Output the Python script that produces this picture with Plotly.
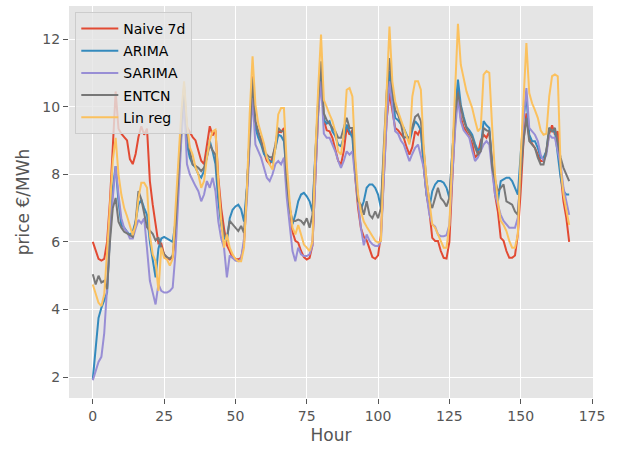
import plotly.graph_objects as go

hours = list(range(168))

naive_7d = [
    6.0, 5.75, 5.5, 5.45, 5.5, 6.0, 7.2, 8.8, 10.45, 9.35, 9.2, 9.1, 9.0, 8.45, 8.3, 8.6, 9.1, 9.42, 9.17, 9.35, 7.8, 7.1, 6.5, 5.95,
    5.95, 5.63, 5.53, 5.48, 5.55, 6.3, 7.8, 9.4, 10.3, 9.4, 9.25, 9.1, 9.0, 8.7, 8.4, 8.3, 8.8, 9.42, 9.15, 9.3, 7.9, 7.0, 6.4, 5.9,
    5.73, 5.53, 5.5, 5.48, 5.53, 5.95, 7.5, 9.4, 10.9, 9.5, 9.2, 9.05, 8.65, 8.4, 8.3, 8.5, 8.8, 9.27, 9.25, 9.37, 8.0, 7.0, 6.3, 6.03,
    5.98, 5.73, 5.55, 5.48, 5.53, 5.9, 8.0, 9.8, 11.0, 9.6, 9.3, 9.27, 9.08, 8.7, 8.4, 8.29, 8.7, 9.37, 9.17, 9.3, 7.9, 7.0, 6.4, 6.15,
    6.05, 5.8, 5.55, 5.5, 5.6, 6.2, 8.0, 9.6, 10.4, 9.86, 9.37, 9.3, 9.2, 9.08, 8.8, 8.58, 8.8, 9.27, 9.17, 9.37, 8.2, 7.4, 6.9, 6.12,
    6.03, 6.03, 5.73, 5.53, 5.51, 6.0, 7.8, 9.5, 10.5, 9.67, 9.4, 9.27, 9.1, 8.9, 8.49, 8.6, 9.0, 9.17, 9.08, 9.27, 8.29, 7.4, 6.9, 6.12,
    6.03, 5.73, 5.53, 5.53, 5.6, 6.22, 7.5, 9.0, 9.8, 9.08, 8.9, 8.78, 8.58, 8.39, 8.39, 8.68, 9.2, 9.45, 9.17, 9.27, 8.0, 7.2, 6.71, 6.0,
]

arima = [
    1.95, 2.9, 3.75, 4.05, 4.3, 4.5, 6.2, 7.6, 8.24, 7.2, 6.5, 6.42, 6.3, 6.2, 6.3, 6.6, 7.1, 7.25, 7.0, 6.8, 6.0, 5.4, 4.95, 5.8,
    6.1, 6.15, 6.1, 6.05, 6.0, 6.6, 7.8, 9.2, 10.5, 8.88, 8.49, 8.29, 8.2, 8.0, 7.9, 8.1, 8.6, 8.98, 8.68, 8.3, 7.2, 6.5, 6.12, 6.03,
    6.7, 6.95, 7.05, 7.1, 6.96, 6.6, 7.6, 9.0, 10.55, 9.37, 9.08, 8.88, 8.6, 8.49, 8.4, 8.35, 8.78, 9.17, 9.13, 8.98, 7.9, 7.0, 6.52, 6.8,
    7.2, 7.4, 7.45, 7.35, 7.2, 6.9, 8.6, 10.0, 10.95, 9.6, 9.5, 9.57, 9.27, 9.13, 8.88, 8.83, 9.1, 9.47, 9.27, 9.08, 8.0, 7.3, 6.95, 7.2,
    7.6, 7.7, 7.7, 7.6, 7.4, 7.0, 8.5, 10.0, 11.05, 10.26, 9.67, 9.6, 9.5, 9.37, 9.17, 8.95, 9.3, 9.57, 9.47, 9.3, 8.3, 7.4, 7.0, 7.5,
    7.7, 7.8, 7.8, 7.75, 7.6, 7.3, 8.6, 9.9, 10.8, 10.06, 9.7, 9.4, 9.3, 9.17, 8.9, 8.7, 8.78, 9.57, 9.45, 9.37, 8.29, 7.6, 7.2, 7.8,
    7.85, 7.9, 7.9, 7.8, 7.6, 7.4, 8.6, 9.7, 10.3, 9.17, 8.98, 8.98, 8.78, 8.49, 8.49, 8.68, 9.37, 9.27, 9.27, 8.6, 7.9, 7.5, 7.4, 7.4,
]

sarima = [
    1.91, 2.2, 2.45, 2.6, 3.3, 4.65, 6.2, 7.3, 8.24, 7.4, 6.7, 6.4, 6.3, 6.1, 6.1, 6.4, 6.65, 6.55, 6.7, 5.8, 4.85, 4.5, 4.15, 4.75,
    4.55, 4.5, 4.5, 4.55, 4.65, 5.7, 7.5, 9.0, 10.2, 8.3, 8.0, 7.8, 7.65, 7.5, 7.2, 7.4, 7.8, 7.6, 7.9, 7.5, 6.6, 6.1, 5.83, 4.95,
    5.6, 5.53, 5.45, 5.43, 5.5, 6.1, 7.2, 8.9, 10.26, 8.88, 8.68, 8.49, 8.19, 7.9, 7.8, 8.0, 8.3, 8.39, 8.29, 8.49, 7.3, 6.42, 5.73, 5.43,
    5.83, 5.63, 5.58, 5.58, 5.63, 5.9, 8.0, 9.8, 10.75, 9.2, 9.08, 9.08, 8.88, 8.68, 8.4, 8.19, 8.4, 8.68, 8.58, 8.68, 7.9, 7.1, 6.42, 5.9,
    6.22, 6.03, 5.93, 5.88, 5.88, 6.03, 8.0, 9.6, 10.75, 10.06, 9.27, 9.2, 9.0, 8.88, 8.6, 8.39, 8.6, 8.78, 8.88, 8.58, 8.2, 7.4, 6.81, 6.52,
    6.45, 6.22, 6.17, 6.17, 6.2, 6.5, 7.8, 9.3, 10.26, 9.57, 9.3, 9.17, 9.08, 8.7, 8.39, 8.5, 8.7, 8.88, 8.98, 8.88, 8.09, 7.4, 7.1, 6.8,
    6.62, 6.52, 6.42, 6.42, 6.42, 6.71, 8.2, 9.6, 10.55, 9.37, 9.27, 9.17, 8.98, 8.58, 8.39, 8.58, 9.17, 9.08, 9.08, 8.7, 8.29, 7.6, 7.2, 6.8,
]

entcn = [
    5.04, 4.74, 5.0, 4.8, 4.85, 4.6, 6.0, 7.0, 7.3, 6.6, 6.42, 6.3, 6.25, 6.2, 6.15, 6.6, 7.5, 7.26, 6.8, 6.43, 6.33, 6.24, 6.04, 6.13,
    5.83, 5.64, 5.55, 5.5, 5.6, 6.5, 8.0, 9.5, 10.6, 9.3, 8.7, 8.29, 8.25, 8.19, 8.09, 8.2, 8.5, 8.88, 8.7, 8.58, 7.6, 6.7, 6.22, 6.12,
    6.62, 6.52, 6.42, 6.32, 6.47, 6.27, 7.5, 9.2, 10.85, 9.57, 9.27, 8.98, 8.68, 8.58, 8.5, 8.5, 8.88, 9.37, 9.27, 9.27, 7.8, 7.0, 6.62, 6.62,
    6.66, 6.62, 6.52, 6.7, 6.42, 6.8, 8.5, 10.2, 11.34, 9.8, 9.6, 9.47, 9.37, 9.27, 9.08, 9.08, 9.37, 9.67, 9.37, 9.37, 8.3, 7.2, 7.1, 6.8,
    7.2, 6.8, 6.7, 6.9, 6.7, 7.0, 8.8, 10.4, 11.44, 10.5, 9.9, 9.77, 9.5, 9.08, 9.1, 9.08, 9.4, 9.7, 9.77, 9.57, 8.7, 7.8, 7.2, 7.0,
    7.3, 7.6, 7.3, 7.2, 7.05, 7.3, 8.6, 9.8, 10.4, 9.96, 9.6, 9.37, 9.2, 9.08, 8.8, 8.58, 8.68, 9.37, 9.3, 9.27, 8.19, 7.8, 7.5, 7.6,
    7.7, 7.2, 7.15, 7.1, 6.9, 6.8, 8.0, 9.0, 9.67, 8.98, 8.88, 8.78, 8.49, 8.29, 8.29, 8.68, 9.37, 9.27, 9.37, 8.9, 8.49, 8.19, 8.0, 7.8,
]

lin_reg = [
    4.74, 4.45, 4.2, 4.1, 4.45, 5.7, 7.2, 8.4, 9.08, 8.0, 7.4, 7.0, 6.76, 6.5, 6.2, 6.5, 7.3, 7.75, 7.75, 7.6, 6.2, 5.63, 5.43, 4.55,
    5.83, 5.53, 5.48, 5.3, 5.5, 7.0, 8.5, 9.8, 10.75, 9.5, 8.8, 8.58, 8.2, 8.0, 7.6, 7.8, 8.5, 9.0, 9.27, 9.32, 7.8, 6.62, 5.83, 6.22,
    5.83, 5.63, 5.5, 5.43, 5.43, 5.83, 7.5, 9.8, 11.49, 10.06, 9.5, 9.2, 8.9, 8.5, 8.29, 8.14, 8.78, 9.77, 9.96, 9.96, 8.29, 7.2, 6.42, 6.22,
    6.5, 6.22, 5.92, 5.83, 5.73, 6.0, 8.6, 10.5, 12.13, 10.2, 9.96, 9.77, 9.57, 9.27, 8.68, 8.58, 9.2, 10.5, 10.55, 10.3, 8.5, 7.4, 6.9, 6.6,
    6.45, 6.3, 6.15, 6.03, 5.98, 6.03, 8.5, 10.5, 12.37, 10.75, 10.16, 9.86, 9.6, 9.37, 9.08, 8.88, 10.3, 10.75, 10.75, 10.5, 8.8, 7.8, 7.2, 6.52,
    6.42, 6.22, 6.03, 5.83, 5.83, 6.5, 8.5, 10.5, 12.45, 11.24, 10.8, 10.45, 10.2, 9.96, 9.6, 9.27, 9.37, 10.95, 11.05, 11.0, 9.4, 8.0, 7.2, 6.62,
    6.5, 6.32, 6.03, 5.83, 5.83, 6.22, 8.5, 10.3, 11.88, 10.4, 10.1, 9.9, 9.67, 9.3, 9.17, 9.2, 10.3, 10.9, 10.95, 10.9, 8.2, 7.4, 6.91, 6.5,
]

series_names = ["Naive 7d", "ARIMA", "SARIMA", "ENTCN", "Lin reg"]
series_values = [naive_7d, arima, sarima, entcn, lin_reg]
series_colors = ["#E24A33", "#348ABD", "#988ED5", "#777777", "#FBC15E"]

x_ticks = [0, 25, 50, 75, 100, 125, 150, 175]
y_ticks = [2, 4, 6, 8, 10, 12]

fig = go.Figure()
for name, vals, col in zip(series_names, series_values, series_colors):
    fig.add_trace(go.Scatter(x=hours, y=vals, mode="lines", name=name,
                             legendgroup=name,
                             line=dict(color=col, width=2)))

# matplotlib-like 5% margins
xmin, xmax = min(hours), max(hours)
allv = [v for s in series_values for v in s]
ymin, ymax = min(allv), max(allv)
xpad = (xmax - xmin) * 0.05
ypad = (ymax - ymin) * 0.05

axis_common = dict(
    showgrid=True, gridcolor="white", gridwidth=1,
    zeroline=False, showline=False,
    ticks="outside", ticklen=5, tickwidth=1, tickcolor="#555555",
    tickfont=dict(family="DejaVu Sans", size=14, color="#555555"),
)

fig.update_layout(
    width=622, height=450,
    margin=dict(l=69, r=29, t=6, b=52),
    paper_bgcolor="white", plot_bgcolor="#E5E5E5",
    font=dict(family="DejaVu Sans", color="#555555"),
    xaxis=dict(range=[xmin - xpad, xmax + xpad], tickvals=x_ticks,
               title=dict(text="Hour", font=dict(size=17, color="#555555"), standoff=6),
               **axis_common),
    yaxis=dict(range=[ymin - ypad, ymax + ypad], tickvals=y_ticks,
               title=dict(text="price €/MWh", font=dict(size=17, color="#555555"), standoff=8),
               **axis_common),
    legend=dict(x=0.012, y=0.985, xanchor="left", yanchor="top",
                bgcolor="rgba(229,229,229,0.8)", bordercolor="#CCCCCC", borderwidth=1,
                itemwidth=37, tracegroupgap=1,
                font=dict(family="DejaVu Sans", size=14, color="black")),
    showlegend=True,
)

fig.write_html("out.html")
